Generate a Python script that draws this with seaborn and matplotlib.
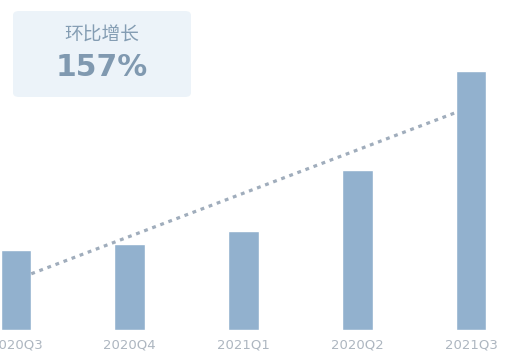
import numpy as np
import pandas as pd
import matplotlib
matplotlib.use("Agg")
import matplotlib.pyplot as plt
from matplotlib.patches import FancyBboxPatch
import seaborn as sns

# Quarterly values
quarters = ["2020Q3", "2020Q4", "2021Q1", "2020Q2", "2021Q3"]
values = [80, 86, 99, 160, 259]
badge_title = "环比增长"
badge_value = "157%"

sns.set_theme(style="white")
plt.rcParams["font.family"] = ["Noto Sans CJK SC", "DejaVu Sans"]

df = pd.DataFrame({"quarter": quarters, "value": values})

fig = plt.figure(figsize=(5.16, 3.57), dpi=100)
ax = fig.add_axes([0, 27 / 357, 1, 330 / 357])

bar_color = "#92b1ce"
sns.barplot(data=df, x="quarter", y="value", color=bar_color, width=0.27,
            saturation=1, ax=ax)

# Linear trend across the quarters, drawn between the first and last bar edges
xs = np.arange(len(values))
slope, intercept = np.polyfit(xs, values, 1)
half = 0.135
tx = np.array([xs[0] + half, xs[-1] - half])
ax.plot(tx, slope * tx + intercept, color="#a0adbc", lw=2.3,
        linestyle=(0, (1.2, 1.5)), dash_capstyle="butt", zorder=3)

ax.set_xlim(-0.14, 4.396)
ax.set_ylim(0, 330)
ax.set_xlabel("")
ax.set_ylabel("")
ax.set_yticks([])
ax.tick_params(axis="x", length=0, pad=6, labelsize=9.5, labelcolor="#adb6c0")
for s in ax.spines.values():
    s.set_visible(False)
for lbl in ax.get_xticklabels():
    lbl.set_family(["DejaVu Sans"])

# Highlight badge
badge = FancyBboxPatch((13 / 516, 1 - 97 / 357), 178 / 516, 86 / 357,
                       boxstyle="round,pad=0,rounding_size=0.012",
                       transform=fig.transFigure, facecolor="#ecf3f9",
                       edgecolor="none", zorder=0)
fig.patches.append(badge)
fig.text(102 / 516, 1 - 35 / 357, badge_title, ha="center", va="center",
         fontsize=13.5, color="#849db3", family=["Noto Sans CJK SC", "DejaVu Sans"])
fig.text(102 / 516, 1 - 68 / 357, badge_value, ha="center", va="center",
         fontsize=21.5, fontweight="semibold", color="#8099b0",
         family=["DejaVu Sans"])

fig.savefig("out.png", dpi=100, facecolor="white")
